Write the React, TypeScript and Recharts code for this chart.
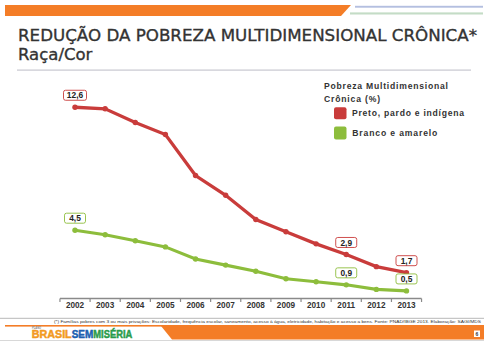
import React from 'react';
import { LineChart, Line, XAxis, YAxis, LabelList } from 'recharts';

const years = ['2002', '2003', '2004', '2005', '2006', '2007', '2008', '2009', '2010', '2011', '2012', '2013'];
const pretoPardoIndigena = [12.6, 12.5, 11.6, 10.8, 8.1, 6.8, 5.2, 4.4, 3.6, 2.9, 2.1, 1.7];
const brancoAmarelo = [4.5, 4.2, 3.8, 3.4, 2.6, 2.2, 1.8, 1.3, 1.1, 0.9, 0.6, 0.5];
const labeledYears = ['2002', '2011', '2013'];
const seriesNames = ['Preto, pardo e indígena', 'Branco e amarelo'];
const legendTitle = ['Pobreza Multidimensional', 'Crônica (%)'];
const titleLines = ['REDUÇÃO DA POBREZA MULTIDIMENSIONAL CRÔNICA*', 'Raça/Cor'];
const footnote =
  '(*) Famílias pobres com 3 ou mais privações: Escolaridade, frequência escolar, saneamento, acesso à água, eletricidade, habitação e acesso a bens. Fonte: PNAD/IBGE 2013. Elaboração: SAGI/MDS';
const logoParts = ['BRASIL', 'SEM', 'MISÉRIA'];
const pageNumber = '6';

const RED = '#c93c3b';
const GREEN = '#8dbd3c';
const ORANGE = '#f47d27';

const data = years.map((y, i) => ({ year: y, ppi: pretoPardoIndigena[i], ba: brancoAmarelo[i] }));

const makeLabel = (color: string) => (props: any) => {
  const { index, value } = props;
  const x = props.x ?? props.viewBox?.x;
  const y = props.y ?? props.viewBox?.y;
  if (!labeledYears.includes(years[index])) return null;
  const txt = String(value).replace('.', ',');
  const w = txt.length > 3 ? 23 : 21;
  const cy = y - 12;
  return (
    <g>
      <rect x={x - w / 2} y={cy - 5} width={w} height={10} rx={2} fill="#fff" stroke={color} strokeWidth={0.9} />
      <text
        x={x}
        y={cy + 3.2}
        textAnchor="middle"
        fontSize={8.4}
        fontWeight="bold"
        fill="#222"
        fontFamily="'Liberation Sans', Arial, sans-serif"
      >
        {txt}
      </text>
    </g>
  );
};

const YearTick = (props: any) => {
  const { x, y, payload, index } = props;
  const half = 15.05;
  return (
    <g>
      <line x1={x - half} x2={x - half} y1={y} y2={y + 3.5} stroke="#8a8a8a" strokeWidth={1.2} />
      {index === years.length - 1 && (
        <line x1={x + half} x2={x + half} y1={y} y2={y + 3.5} stroke="#8a8a8a" strokeWidth={1.2} />
      )}
      <text
        x={x}
        y={y + 9}
        textAnchor="middle"
        fontSize={8.2}
        fontWeight="bold"
        fill="#333"
        fontFamily="'Liberation Sans', Arial, sans-serif"
      >
        {payload.value}
      </text>
    </g>
  );
};

const Slide = () => (
  <svg width={491} height={346} style={{ position: 'absolute', left: 0, top: 0 }}>
    <rect x={0} y={0} width={491} height={346} fill="#fff" />
    {/* header bar */}
    <polygon points="5,5 351,5 341,16 5,16" fill={ORANGE} />
    <rect x={355} y={5.8} width={128} height={1.9} fill="#b4bfe0" />
    <rect x={350} y={12.4} width={133} height={2.1} fill="#c4dcc6" />
    {/* title */}
    <g fill="#333" stroke="#333" strokeWidth={0.35} fontFamily="'DejaVu Sans', sans-serif" fontSize={16.5}>
      <text x={18} y={40.5} textLength={459} lengthAdjust="spacingAndGlyphs">
        {titleLines[0]}
      </text>
      <text x={18} y={59.5}>
        {titleLines[1]}
      </text>
    </g>
    <rect x={17} y={69.5} width={454} height={1.2} fill="#c8c8d0" />
    {/* legend */}
    <g fontFamily="'Liberation Sans', Arial, sans-serif" fontWeight="bold" fill="#333" fontSize={8.6}>
      <text x={324} y={88.5} textLength={124} lengthAdjust="spacing">{legendTitle[0]}</text>
      <text x={324} y={101.5} textLength={56} lengthAdjust="spacing">{legendTitle[1]}</text>
      <rect x={334} y={107.3} width={12.5} height={12} rx={2} fill={RED} />
      <text x={352} y={115.5} textLength={112} lengthAdjust="spacing">{seriesNames[0]}</text>
      <rect x={334} y={126.5} width={12.5} height={13} rx={2} fill={GREEN} />
      <text x={352.3} y={135.5} textLength={85} lengthAdjust="spacing">{seriesNames[1]}</text>
    </g>
    {/* footer */}
    <rect x={0} y={317.8} width={484} height={1} fill="#b8b8b8" />
    <text x={54} y={323.2} fontSize={4.4} fill="#333" fontFamily="'Liberation Sans', Arial, sans-serif" textLength={427} lengthAdjust="spacingAndGlyphs">
      {footnote}
    </text>
    <rect x={5} y={325} width={479} height={1.6} fill={ORANGE} />
    <polygon points="161,326 484,326 484,339.5 172,339.5" fill={ORANGE} />
    <rect x={0} y={340} width={484} height={0.8} fill="#cfcfcf" />
    <rect x={474} y={330.5} width={6} height={6.5} fill="#fff" />
    <text x={477} y={336} fontSize={5} fontWeight="bold" fill="#333" textAnchor="middle" fontFamily="'Liberation Sans', Arial, sans-serif">
      {pageNumber}
    </text>
    <text x={32} y={328.5} fontSize={2.6} fontWeight="bold" fill="#888" fontFamily="'Liberation Sans', Arial, sans-serif">PLANO</text>
    <g fontFamily="'Liberation Sans', Arial, sans-serif" fontWeight="bold" fontSize={10} strokeWidth={0.45}>
      <text x={31.7} y={338.3} fill="#f29a22" stroke="#f29a22" textLength={40} lengthAdjust="spacingAndGlyphs">{logoParts[0]}</text>
      <text x={71.7} y={338.3} fill="#2060b0" stroke="#2060b0" textLength={21.6} lengthAdjust="spacingAndGlyphs">{logoParts[1]}</text>
      <text x={93.3} y={338.3} fill="#2a9b4a" stroke="#2a9b4a" textLength={39} lengthAdjust="spacingAndGlyphs">{logoParts[2]}</text>
    </g>
  </svg>
);

export default function App() {
  return (
    <div style={{ position: 'absolute', left: 0, top: 0, width: 491, height: 346, background: '#fff' }}>
      <Slide />
      <div style={{ position: 'absolute', left: 0, top: 0 }}>
        <LineChart width={491} height={346} data={data} margin={{ top: 86, right: 69.5, bottom: 27.5, left: 60 }}>
          <XAxis
            dataKey="year"
            height={20}
            padding={{ left: 15, right: 15 }}
            tickSize={0}
            tickMargin={0}
            tickLine={false}
            axisLine={{ stroke: '#8a8a8a', strokeWidth: 1.6 }}
            tick={<YearTick />}
            interval={0}
          />
          <YAxis hide domain={[0, 14]} />
          <Line
            dataKey="ppi"
            name={seriesNames[0]}
            stroke={RED}
            strokeWidth={3.3}
            dot={{ r: 2.7, fill: RED, stroke: RED, strokeWidth: 0 }}
            activeDot={false}
            isAnimationActive={false}
          >
            <LabelList dataKey="ppi" content={makeLabel(RED)} />
          </Line>
          <Line
            dataKey="ba"
            name={seriesNames[1]}
            stroke={GREEN}
            strokeWidth={3.1}
            dot={{ r: 2.7, fill: GREEN, stroke: GREEN, strokeWidth: 0 }}
            activeDot={false}
            isAnimationActive={false}
          >
            <LabelList dataKey="ba" content={makeLabel(GREEN)} />
          </Line>
        </LineChart>
      </div>
    </div>
  );
}
